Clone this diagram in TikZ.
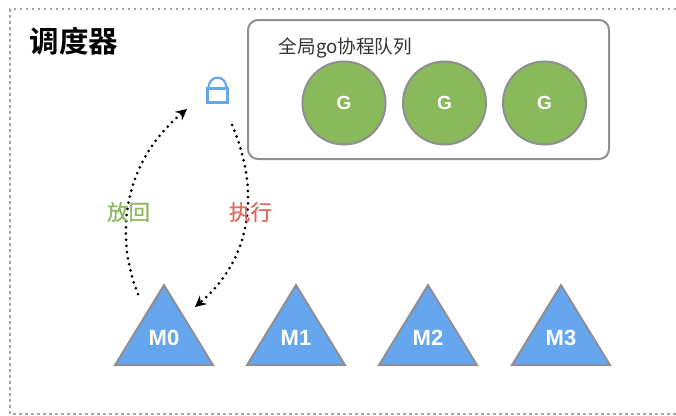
\documentclass[tikz,border=0pt]{standalone}
\usepackage{fontspec}
\setmainfont{Liberation Sans}
\newfontfamily\cjk{Noto Sans CJK SC}
\newfontfamily\cjkmid[FakeBold=0.6]{Noto Sans CJK SC}
\newfontfamily\cjkbold{Noto Sans CJK SC Bold}
\usetikzlibrary{arrows.meta,shapes.geometric}

\definecolor{gblue}{HTML}{66A6EE}
\definecolor{ggreen}{HTML}{89B95A}
\definecolor{gred}{HTML}{DF6A5E}
\definecolor{gborder}{HTML}{8E8E93}

\tikzset{
  frameline/.style={draw=gborder!80,line width=1.1pt,dash pattern=on 2.5pt off 3.5pt},
  queuebox/.style={draw=gborder,line width=2pt,rounded corners=10pt,
    minimum width=361pt,minimum height=139pt,inner sep=0pt},
  goroutine/.style={circle,draw=gborder,line width=2pt,fill=ggreen,text=white,
    minimum size=83pt,inner sep=0pt,font=\fontsize{19}{19}\selectfont\bfseries},
  machine/.style={isosceles triangle,isosceles triangle stretches,
    shape border rotate=90,anchor=apex,draw=gborder,line width=2pt,fill=gblue,
    minimum width=98pt,minimum height=80pt,inner sep=0pt},
  machinename/.style={text=white,inner sep=0pt,font=\fontsize{22}{22}\selectfont\bfseries},
  lockbody/.style={draw=gblue,line width=2.2pt,minimum width=20pt,minimum height=14pt,inner sep=0pt},
  dotarrow/.style={line width=3pt,line cap=round,dash pattern=on 0pt off 6.2pt,
    -{Stealth[length=11pt,width=11pt]}},
}

\begin{document}
\begin{tikzpicture}[x=1pt,y=-1pt]
    \useasboundingbox (0,0) rectangle (676,415);

    \draw [frameline] (676,9) -- (10,9) -- (10,414) -- (676,414);

    \node [anchor=center,inner sep=0pt,font=\fontsize{29.5}{29.5}\selectfont\cjkbold] (title) at (74,41.5) {调度器};

    % queue
    \node [queuebox] (queue) at (428.5,89.5) {};
    \node [anchor=center,inner sep=0pt,text=black!80,font=\fontsize{18.6}{18.6}\selectfont\cjk] (queuename) at (345.5,47.5) {全局go协程队列};
    \foreach \gname/\gx in {g0/344,g1/444.5,g2/544.5}
        \node [goroutine] (\gname) at (\gx,103) {G};

    % lock
    \node [lockbody] (lock) at (217.5,95.5) {};
    \draw [draw=gblue,line width=2.2pt] (208.5,88.5) .. controls (208.5,74) and (226.5,74) .. (226.5,88.5);

    % threads
    \foreach \mname/\mx in {m0/164,m1/296,m2/428,m3/561}
        \node [machine] (\mname) at (\mx,282.5) {};
    \node [machinename] (m0name) at (164,338) {M0};
    \node [machinename] (m1name) at (296,338) {M1};
    \node [machinename] (m2name) at (428,338) {M2};
    \node [machinename] (m3name) at (561,338) {M3};

    \coordinate (putfrom) at (138,294);
    \coordinate (putto) at (187,109);
    \coordinate (runfrom) at (232,125);
    \coordinate (runto) at (195,307);

    \draw [dotarrow] (putfrom) .. controls (116,240) and (120,165) .. (putto);
    \draw [dotarrow] (runfrom) .. controls (258,185) and (256,255) .. (runto);

    \node [anchor=center,inner sep=0pt,text=ggreen,font=\fontsize{21.5}{21.5}\selectfont\cjkmid] (putname) at (128.5,212) {放回};
    \node [anchor=center,inner sep=0pt,text=gred,font=\fontsize{21.5}{21.5}\selectfont\cjkmid] (runname) at (250.5,212) {执行};
\end{tikzpicture}
\end{document}
